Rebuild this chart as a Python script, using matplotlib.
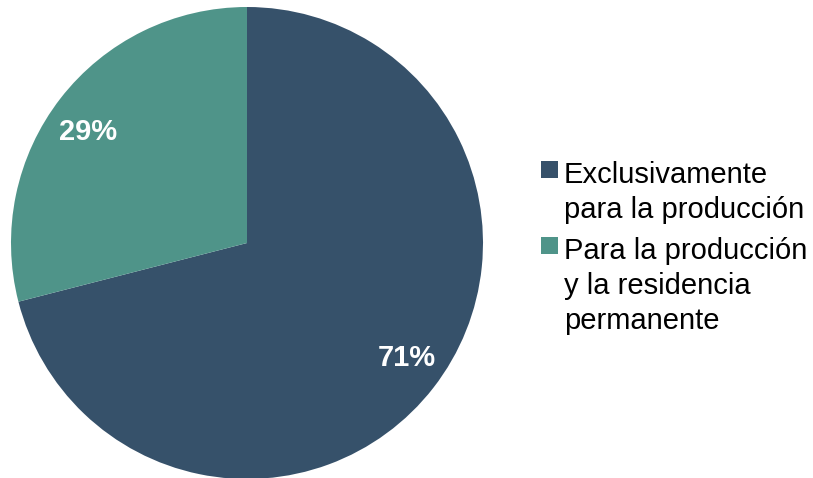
import matplotlib.pyplot as plt
from matplotlib.patches import Rectangle

plt.rcParams['font.family'] = ['Liberation Sans', 'DejaVu Sans']

labels = ['Exclusivamente\npara la producción', 'Para la producción\ny la residencia\npermanente']
shares = [71, 29]
colors = ['#36516a', '#4f9489']

W, H = 813, 478
fig = plt.figure(figsize=(W / 100, H / 100), dpi=100)
ax = fig.add_axes([11 / W, -1 / H, 472 / W, 472 / H])

wedges, texts, autotexts = ax.pie(
    shares, colors=colors, startangle=90, counterclock=False,
    autopct='%d%%', pctdistance=0.83, radius=1,
    textprops=dict(color='white', fontsize=21, fontweight='bold'))
# nudge the percentage labels to where the original puts them
autotexts[0].set_position((0.678, -0.487))
autotexts[1].set_position((-0.674, 0.470))
ax.set_xlim(-1, 1)
ax.set_ylim(-1, 1)
ax.set_aspect('equal')

# legend drawn by hand: swatch lines up with the first text line
base = 183
line_step = 35
for lab, col in zip(labels, colors):
    fig.patches.append(Rectangle((541 / W, 1 - (base - 5) / H), 17 / W, 17 / H,
                                 transform=fig.transFigure, facecolor=col, edgecolor='none'))
    for line in lab.split('\n'):
        fig.text(564 / W, 1 - base / H, line, fontsize=21, va='baseline', ha='left', color='black')
        base += line_step
    base += 6

fig.savefig('out.png', dpi=100)
